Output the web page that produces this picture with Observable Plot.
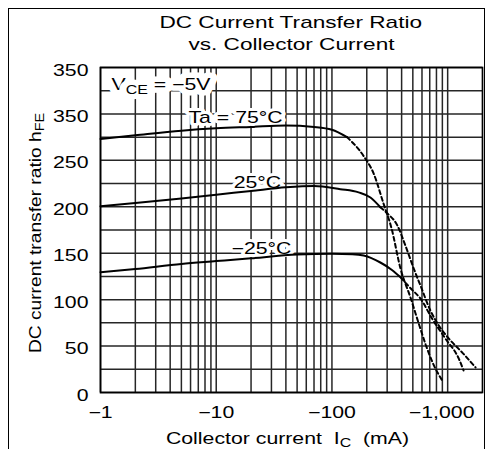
<!DOCTYPE html>
<html><head><meta charset="utf-8">
<script src="https://cdn.jsdelivr.net/npm/d3@7"></script>
<script src="https://cdn.jsdelivr.net/npm/@observablehq/plot@0.6"></script>
<style>
html,body{margin:0;padding:0;background:#fff;overflow:hidden;width:488px;height:449px;}
#box{position:absolute;left:8px;top:8px;width:475px;height:470px;border:1.5px solid #000;}
#title{position:absolute;left:0;top:12px;width:582px;text-align:center;font-family:"Liberation Sans",Arial,sans-serif;font-size:17px;line-height:22px;color:#000;}
#title span{display:inline-block;transform:scaleX(1.33);}
#chart{position:absolute;left:0;top:58px;}
</style></head><body>
<div id="box"></div>
<div id="title"><span>DC Current Transfer Ratio</span><br><span>vs. Collector Current</span></div>
<div id="chart"></div>
<script>
// grid & ticks
const xGrid = [1,2,3,4,5,6,7,8,9,10,20,30,40,50,60,70,80,90,100,200,300,400,500,600,700,800,900,1000];
const yGrid = [0,25,50,75,100,125,150,175,200,225,250,275,300,325,350];
const xTicks = [1,10,100,1000];
const xTickLabels = ["−1","−10","−100","−1,000"];
const yTicks = [0,50,100,150,200,250,300,350];
const yTickLabels = ["0","50","100","150","200","250","350","350"];

// series (|Ic| in mA, hFE); points beyond solidEnd are drawn dashed
const ic75  = [1,2,5,10,20,40,70,100,135,187,229,279,327,392,478,560,644,755,897];
const hfe75 = [273,277,282,284.5,286,287.5,286,283,275,255,236,203.5,177,133,102,75,52,30,13];
const solidEnd75 = 135;
const ic25  = [1,2,5,10,20,40,70,118,170,215,262,300,367,432,511,583,711,839,1024,1337,1742];
const hfe25 = [200.5,204,209,213,217,221,222.5,219,215.5,210,199.5,193,180,158,133,115,88,72,58,43,27];
const solidEnd25 = 262;
const icM25  = [1,2,5,10,20,50,100,150,188,262,330,392,480,583,735,959,1250,1372];
const hfeM25 = [129.5,133,138.5,141.5,144.5,148.5,149.5,149,147.5,140,132,124,112,101,79.4,57.8,36.3,23.7];
const solidEndM25 = 392;

const notes = [
  {ic:14.7, hfe:296, text:"Ta = 75°C"},
  {ic:22.7, hfe:226, text:"25°C"},
  {ic:24.6, hfe:155, text:"−25°C"}
];
const vceNote = [{ic:3.33, hfe:331, text:"V_{CE} = −5V"}];

const series = [
  {t:"75", ic:ic75, hfe:hfe75, end:solidEnd75},
  {t:"25", ic:ic25, hfe:hfe25, end:solidEnd25},
  {t:"-25", ic:icM25, hfe:hfeM25, end:solidEndM25}
];
const solid = [], dashed = [];
for (const s of series) s.ic.forEach((c,i) => {
  if (c <= s.end) solid.push({t:s.t, ic:c, hfe:s.hfe[i]});
  if (c >= s.end) dashed.push({t:s.t, ic:c, hfe:s.hfe[i]});
});

const font = "Liberation Sans, Arial, sans-serif";
const plot = Plot.plot({
  width:488, height:391,
  marginTop:9, marginBottom:57, marginLeft:100, marginRight:6,
  x:{type:"log", domain:[1,2000], axis:null},
  y:{domain:[0,350], axis:null},
  style:{fontFamily:font, background:"transparent", color:"#000"},
  marks:[
    Plot.ruleX(xGrid, {stroke:"#262626", strokeWidth:1.5}),
    Plot.ruleY(yGrid, {stroke:"#262626", strokeWidth:1.5}),
    Plot.frame({stroke:"#000", strokeWidth:1.7}),
    Plot.text(vceNote, {x:"ic", y:"hfe", text:"text", fontSize:16, fill:"#000", stroke:"white", strokeWidth:11, paintOrder:"stroke", lineAnchor:"middle"}),
    Plot.text(notes, {x:"ic", y:"hfe", text:"text", fontSize:16, fill:"#000", stroke:"white", strokeWidth:6, paintOrder:"stroke", lineAnchor:"middle"}),
    Plot.line(solid, {x:"ic", y:"hfe", z:"t", stroke:"#000", strokeWidth:2, curve:"monotone-x"}),
    Plot.line(dashed, {x:"ic", y:"hfe", z:"t", stroke:"#000", strokeWidth:2, strokeDasharray:"4,3", curve:"monotone-x"}),
    Plot.text(yTicks, {frameAnchor:"left", y:d=>d, text:(d,i)=>yTickLabels[i], textAnchor:"end", dx:-12, dy:3, fontSize:16, lineAnchor:"middle"}),
    Plot.text(xTicks.slice(0,3), {frameAnchor:"bottom", x:d=>d, text:(d,i)=>xTickLabels[i], textAnchor:"middle", dy:20, fontSize:16, lineAnchor:"middle"}),
    Plot.text(xTicks.slice(3), {frameAnchor:"bottom", x:d=>d, text:(d,i)=>xTickLabels[i+3], textAnchor:"middle", dy:20, dx:-6, fontSize:16, lineAnchor:"middle"}),
    Plot.text(["DC current transfer ratio h_{FE}"], {frameAnchor:"left", rotate:-90, textAnchor:"middle", dx:-60, dy:3, fontSize:16, lineAnchor:"bottom", className:"ylab"}),
    Plot.text(["Collector current\u00a0\u00a0I_{C}\u00a0\u00a0(mA)"], {frameAnchor:"bottom", textAnchor:"middle", dx:-4, dy:51, fontSize:16, lineAnchor:"bottom"})
  ]
});

// subscripts + horizontal stretch like the scanned original
const NS = "http://www.w3.org/2000/svg";
plot.querySelectorAll("text").forEach(t => {
  const s = t.textContent;
  if (s.includes("_{")) {
    t.textContent = "";
    let shifted = false;
    for (const p of s.split(/(_\{[^}]*\})/)) {
      if (!p) continue;
      const ts = document.createElementNS(NS, "tspan");
      if (p.startsWith("_{")) {
        ts.textContent = p.slice(2, -1);
        ts.setAttribute("font-size", "12");
        ts.setAttribute("dy", "3.5");
        shifted = true;
      } else {
        ts.textContent = p;
        if (shifted) { ts.setAttribute("dy", "-3.5"); shifted = false; }
      }
      t.appendChild(ts);
    }
  }
  const isY = t.closest("g.ylab") !== null;
  const tr = t.getAttribute("transform") || "";
  t.setAttribute("transform", tr + (isY ? " scale(1.2,1)" : " scale(1.33,1)"));
});
document.getElementById("chart").appendChild(plot);
</script>
</body></html>
